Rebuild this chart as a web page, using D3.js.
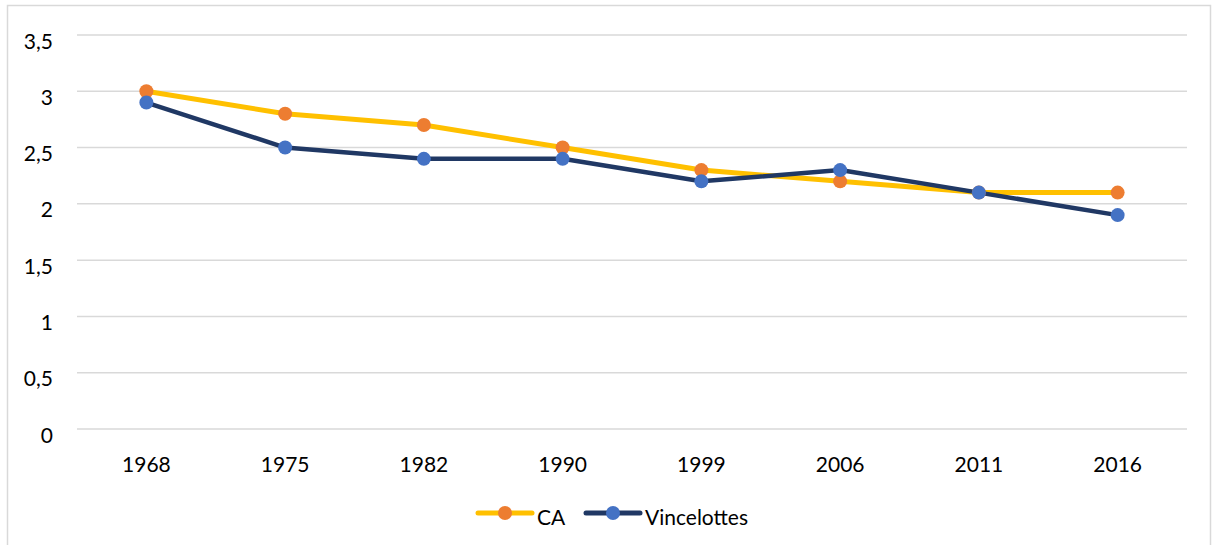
<!DOCTYPE html>
<html>
<head>
<meta charset="utf-8">
<script src="https://cdn.jsdelivr.net/npm/d3@7"></script>
<style>
  body { margin: 0; background: white; }
  svg text { font-family: Lato, "Open Sans", sans-serif; font-size: 21px; fill: #000; }
</style>
</head>
<body>
<div id="chart"></div>
<script>
var WIDTH = 1212;
var HEIGHT = 545;

var years = ['1968', '1975', '1982', '1990', '1999', '2006', '2011', '2016'];
var caValues = [3, 2.8, 2.7, 2.5, 2.3, 2.2, 2.1, 2.1];
var vincelottesValues = [2.9, 2.5, 2.4, 2.4, 2.2, 2.3, 2.1, 1.9];
var yTicks = [0, 0.5, 1, 1.5, 2, 2.5, 3, 3.5];

var series = [
  { name: 'CA', values: caValues, line: '#FFC000', dot: '#ED7D31', width: 5 },
  { name: 'Vincelottes', values: vincelottesValues, line: '#203864', dot: '#4472C4', width: 4.5 }
];

var margin = { left: 77, right: 25, top: 35, bottom: 116 };

var svg = d3.select('#chart')
  .append('svg')
  .attr('width', WIDTH)
  .attr('height', HEIGHT);

// chart frame
svg.append('rect')
  .attr('x', 7.5)
  .attr('y', 5.5)
  .attr('width', WIDTH - 9)
  .attr('height', HEIGHT)
  .attr('fill', 'none')
  .attr('stroke', '#d9d9d9')
  .attr('stroke-width', 1.5);

var x = d3.scaleBand()
  .domain(years)
  .range([margin.left, WIDTH - margin.right]);

var y = d3.scaleLinear()
  .domain([0, 3.5])
  .range([HEIGHT - margin.bottom, margin.top]);

var fmt = function (d) { return String(d).replace('.', ','); };

// gridlines
svg.append('g')
  .selectAll('line')
  .data(yTicks)
  .enter()
  .append('line')
  .attr('x1', x.range()[0])
  .attr('x2', x.range()[1])
  .attr('y1', function (d) { return y(d); })
  .attr('y2', function (d) { return y(d); })
  .attr('stroke', '#d9d9d9')
  .attr('stroke-width', 1.5);

// y axis labels
var yAxis = d3.axisLeft(y).tickValues(yTicks).tickFormat(fmt).tickSize(0).tickPadding(24);
svg.append('g')
  .attr('transform', 'translate(' + margin.left + ',0)')
  .call(yAxis)
  .call(function (g) { g.select('.domain').remove(); })
  .selectAll('text')
  .attr('dy', '0.62em');

// x axis labels
var xAxis = d3.axisBottom(x).tickSize(0).tickPadding(28);
svg.append('g')
  .attr('transform', 'translate(0,' + y(0) + ')')
  .call(xAxis)
  .call(function (g) { g.select('.domain').remove(); });

var line = d3.line()
  .x(function (d, i) { return x(years[i]) + x.bandwidth() / 2; })
  .y(function (d) { return y(d); });

series.forEach(function (s) {
  svg.append('path')
    .datum(s.values)
    .attr('d', line)
    .attr('fill', 'none')
    .attr('stroke', s.line)
    .attr('stroke-width', s.width)
    .attr('stroke-linejoin', 'round')
    .attr('stroke-linecap', 'round');
});

series.forEach(function (s) {
  svg.append('g')
    .selectAll('circle')
    .data(s.values)
    .enter()
    .append('circle')
    .attr('cx', function (d, i) { return x(years[i]) + x.bandwidth() / 2; })
    .attr('cy', function (d) { return y(d); })
    .attr('r', 7)
    .attr('fill', s.dot);
});

// legend
var legendY = 513;
var legendItems = [
  { s: series[0], x0: 478 },
  { s: series[1], x0: 586 }
];
legendItems.forEach(function (item) {
  var g = svg.append('g');
  g.append('line')
    .attr('x1', item.x0)
    .attr('x2', item.x0 + 54)
    .attr('y1', legendY)
    .attr('y2', legendY)
    .attr('stroke', item.s.line)
    .attr('stroke-width', 5)
    .attr('stroke-linecap', 'round');
  g.append('circle')
    .attr('cx', item.x0 + 27)
    .attr('cy', legendY)
    .attr('r', 7)
    .attr('fill', item.s.dot);
  g.append('text')
    .attr('x', item.x0 + 59)
    .attr('y', legendY + 12)
    .text(item.s.name);
});
</script>
</body>
</html>
